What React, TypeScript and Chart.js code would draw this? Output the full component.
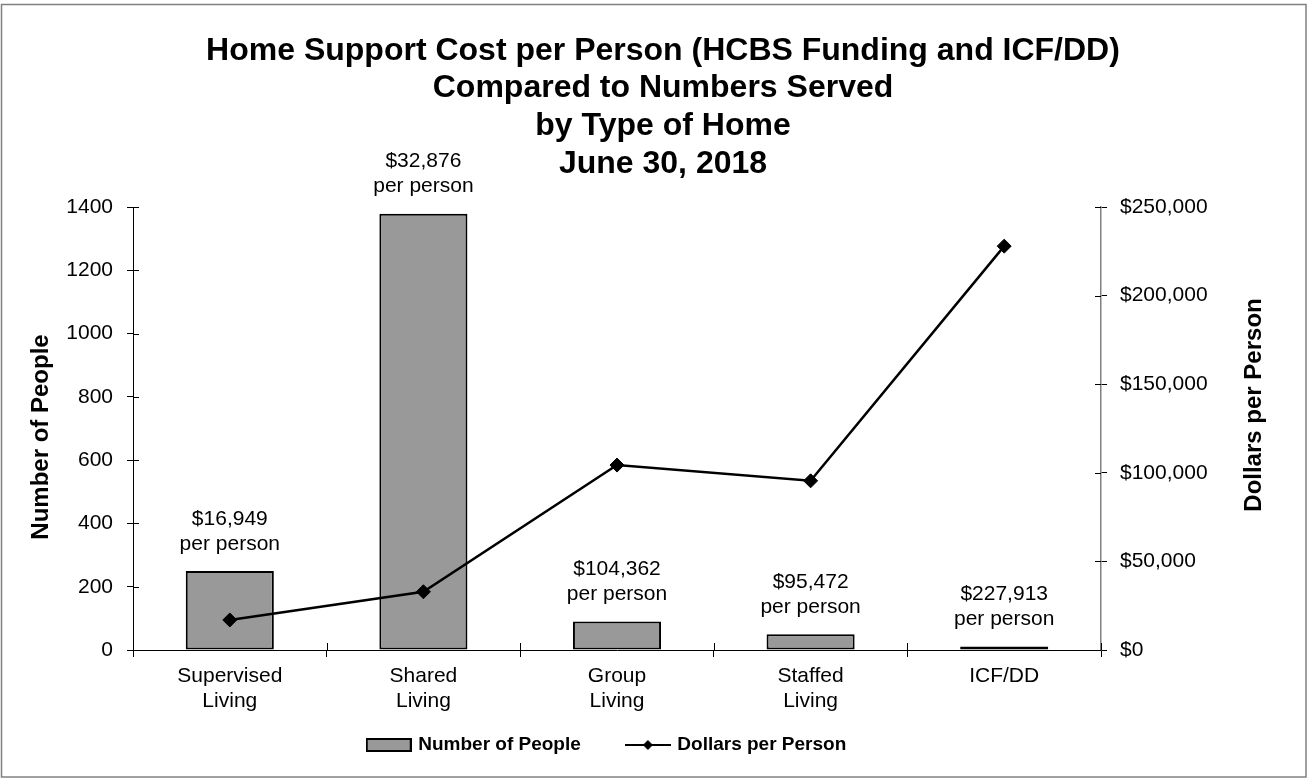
import React, { useEffect, useRef } from 'react';
import { Chart, registerables } from 'chart.js';

Chart.register(...registerables);

// ---------- data ----------
const categories: string[][] = [
  ['Supervised', 'Living'],
  ['Shared', 'Living'],
  ['Group', 'Living'],
  ['Staffed', 'Living'],
  ['ICF/DD'],
];
const numberOfPeople = [250, 1379, 90, 50, 11];
const dollarsPerPerson = [16949, 32876, 104362, 95472, 227913];
const barLabelSuffix = 'per person';
const titleLines = [
  'Home Support Cost per Person (HCBS Funding and ICF/DD)',
  'Compared to Numbers Served',
  'by Type of Home',
  'June 30, 2018',
];
const seriesNames = ['Number of People', 'Dollars per Person'];
const leftAxisTitle = 'Number of People';
const rightAxisTitle = 'Dollars per Person';
const leftAxisMax = 1400;
const leftAxisStep = 200;
const rightAxisMax = 250000;
const rightAxisStep = 50000;

// ---------- styling ----------
const FONT = '"Liberation Sans", Arial, Helvetica, sans-serif';
const W = 1307;
const H = 779;
const PLOT_LEFT = 133;
const PLOT_RIGHT = 1101;
const PAD_L = 20;
const PAD_R = 20;
const LEGEND_SHIFT_X = -46;
const LEGEND_SHIFT_Y = -26.5;
const TITLE_SHIFT = 9.5;

const fmtDollar = (v: number) => '$' + Number(v).toLocaleString('en-US');

function makeBarSwatch(): HTMLCanvasElement {
  const c = document.createElement('canvas');
  c.width = 46;
  c.height = 14;
  const g = c.getContext('2d')!;
  g.fillStyle = '#999999';
  g.fillRect(1, 1, 44, 12);
  g.strokeStyle = '#000';
  g.lineWidth = 2;
  g.strokeRect(1, 1, 44, 12);
  return c;
}

function makeLineSwatch(): HTMLCanvasElement {
  const c = document.createElement('canvas');
  c.width = 46;
  c.height = 14;
  const g = c.getContext('2d')!;
  g.strokeStyle = '#000';
  g.lineWidth = 2;
  g.beginPath();
  g.moveTo(0, 7);
  g.lineTo(46, 7);
  g.stroke();
  g.fillStyle = '#000';
  g.beginPath();
  g.moveTo(23, 2);
  g.lineTo(28, 7);
  g.lineTo(23, 12);
  g.lineTo(18, 7);
  g.closePath();
  g.fill();
  return c;
}

const decorPlugin = {
  id: 'decor',
  afterLayout(chart: any) {
    if (chart.legend) {
      chart.legend.left += LEGEND_SHIFT_X;
      chart.legend.right += LEGEND_SHIFT_X;
      chart.legend.top += LEGEND_SHIFT_Y;
    }
    if (chart.titleBlock) {
      chart.titleBlock.left += TITLE_SHIFT;
      chart.titleBlock.right += TITLE_SHIFT;
    }
  },
  afterDatasetsDraw(chart: any) {
    const ctx = chart.ctx;
    const meta = chart.getDatasetMeta(0);
    ctx.save();
    ctx.fillStyle = '#000';
    ctx.font = `21px ${FONT}`;
    ctx.textAlign = 'center';
    ctx.textBaseline = 'middle';
    meta.data.forEach((bar: any, i: number) => {
      ctx.fillText(fmtDollar(dollarsPerPerson[i]), bar.x, bar.y - 52);
      ctx.fillText(barLabelSuffix, bar.x, bar.y - 27);
    });
    ctx.restore();
  },
  afterDraw(chart: any) {
    const ctx = chart.ctx;
    const { y, y1, x } = chart.scales;
    const area = chart.chartArea;
    ctx.save();
    ctx.strokeStyle = '#000';
    ctx.lineWidth = 1;
    // inner halves of tick marks (ticks cross the axis)
    y.ticks.forEach((_t: any, i: number) => {
      const py = Math.round(y.getPixelForTick(i)) + 0.5;
      ctx.beginPath();
      ctx.moveTo(area.left, py);
      ctx.lineTo(area.left + 6, py);
      ctx.stroke();
    });
    y1.ticks.forEach((_t: any, i: number) => {
      const py = Math.round(y1.getPixelForTick(i)) + 0.5;
      ctx.beginPath();
      ctx.moveTo(area.right - 6, py);
      ctx.lineTo(area.right, py);
      ctx.stroke();
    });
    const n = categories.length;
    for (let i = 0; i <= n; i++) {
      const px = Math.round(x.left + (i * x.width) / n) + 0.5;
      ctx.beginPath();
      ctx.moveTo(px, area.bottom - 7);
      ctx.lineTo(px, area.bottom);
      ctx.stroke();
    }
    // axis titles (both read bottom-to-top)
    ctx.fillStyle = '#000';
    ctx.font = `bold 24px ${FONT}`;
    ctx.textAlign = 'center';
    ctx.textBaseline = 'middle';
    ctx.save();
    ctx.translate(41, 437);
    ctx.rotate(-Math.PI / 2);
    ctx.fillText(leftAxisTitle, 0, 0);
    ctx.restore();
    ctx.save();
    ctx.translate(1254, 405);
    ctx.rotate(-Math.PI / 2);
    ctx.fillText(rightAxisTitle, 0, 0);
    ctx.restore();
    // outer chart border
    ctx.strokeStyle = '#808080';
    ctx.lineWidth = 1.5;
    ctx.strokeRect(1.5, 4.5, 1304.5, 772.5);
    ctx.restore();
  },
};

export default function App() {
  const ref = useRef<HTMLCanvasElement>(null);

  useEffect(() => {
    const canvas = ref.current!;
    const barSwatch = makeBarSwatch();
    const lineSwatch = makeLineSwatch();

    const chart = new Chart(canvas, {
      type: 'bar',
      data: {
        labels: categories,
        datasets: [
          {
            type: 'bar',
            label: seriesNames[0],
            data: numberOfPeople,
            yAxisID: 'y',
            backgroundColor: '#999999',
            borderColor: '#000000',
            borderWidth: 2,
            borderSkipped: false,
            barPercentage: 0.455,
            categoryPercentage: 1,
            order: 1,
          } as any,
          {
            type: 'line',
            label: seriesNames[1],
            data: dollarsPerPerson,
            yAxisID: 'y1',
            borderColor: '#000000',
            borderWidth: 2.5,
            backgroundColor: '#000000',
            pointStyle: 'rectRot',
            pointRadius: 7,
            pointBackgroundColor: '#000000',
            pointBorderColor: '#000000',
            pointBorderWidth: 1,
            tension: 0,
            fill: false,
            order: 0,
          } as any,
        ],
      },
      options: {
        responsive: false,
        animation: false,
        devicePixelRatio: window.devicePixelRatio || 1,
        layout: { padding: { left: PAD_L, right: PAD_R, top: 0, bottom: 0 } },
        plugins: {
          tooltip: { enabled: false },
          title: {
            display: true,
            text: titleLines,
            color: '#000',
            font: { family: FONT, size: 32, weight: 'bold', lineHeight: 37.7 / 32 },
            padding: { top: 32, bottom: 24.2 },
          },
          legend: {
            display: true,
            position: 'bottom',
            maxHeight: 64,
            labels: {
              usePointStyle: true,
              pointStyleWidth: 40,
              padding: 47,
              color: '#000',
              font: { family: FONT, size: 19, weight: 'bold' },
              generateLabels: () => [
                { text: seriesNames[0], pointStyle: barSwatch, fillStyle: '#999999', strokeStyle: '#000', lineWidth: 0, hidden: false, datasetIndex: 0 } as any,
                { text: seriesNames[1], pointStyle: lineSwatch, fillStyle: '#000', strokeStyle: '#000', lineWidth: 0, hidden: false, datasetIndex: 1 } as any,
              ],
            },
          },
        },
        scales: {
          x: {
            type: 'category',
            offset: true,
            grid: {
              display: true,
              offset: true,
              drawOnChartArea: false,
              drawTicks: true,
              tickLength: 7,
              color: '#000',
              lineWidth: 1,
            },
            border: { display: true, color: '#000', width: 1 },
            ticks: {
              color: '#000',
              font: { family: FONT, size: 21, lineHeight: 25 / 21 },
              padding: 7,
              maxRotation: 0,
              autoSkip: false,
            },
            afterFit: (s: any) => {
              s.height = 65;
            },
          },
          y: {
            type: 'linear',
            position: 'left',
            min: 0,
            max: leftAxisMax,
            grid: {
              display: true,
              drawOnChartArea: false,
              drawTicks: true,
              tickLength: 6,
              color: '#000',
              lineWidth: 1,
            },
            border: { display: true, color: '#000', width: 1 },
            ticks: {
              stepSize: leftAxisStep,
              color: '#000',
              font: { family: FONT, size: 21 },
              padding: 14,
              callback: (v: any) => String(v),
            },
            afterFit: (s: any) => {
              s.width = PLOT_LEFT - PAD_L;
            },
          },
          y1: {
            type: 'linear',
            position: 'right',
            min: 0,
            max: rightAxisMax,
            grid: {
              display: true,
              drawOnChartArea: false,
              drawTicks: true,
              tickLength: 6,
              color: '#000',
              lineWidth: 1,
            },
            border: { display: true, color: '#808080', width: 1.5 },
            ticks: {
              stepSize: rightAxisStep,
              color: '#000',
              font: { family: FONT, size: 21 },
              padding: 13,
              callback: (v: any) => fmtDollar(Number(v)),
            },
            afterFit: (s: any) => {
              s.width = W - PAD_R - PLOT_RIGHT;
            },
          },
        },
      } as any,
      plugins: [decorPlugin as any],
    });

    return () => chart.destroy();
  }, []);

  return (
    <div style={{ position: 'fixed', left: 0, top: 0, width: W, height: H, background: '#ffffff' }}>
      <canvas ref={ref} width={W} height={H} style={{ display: 'block', width: W, height: H }} />
    </div>
  );
}
